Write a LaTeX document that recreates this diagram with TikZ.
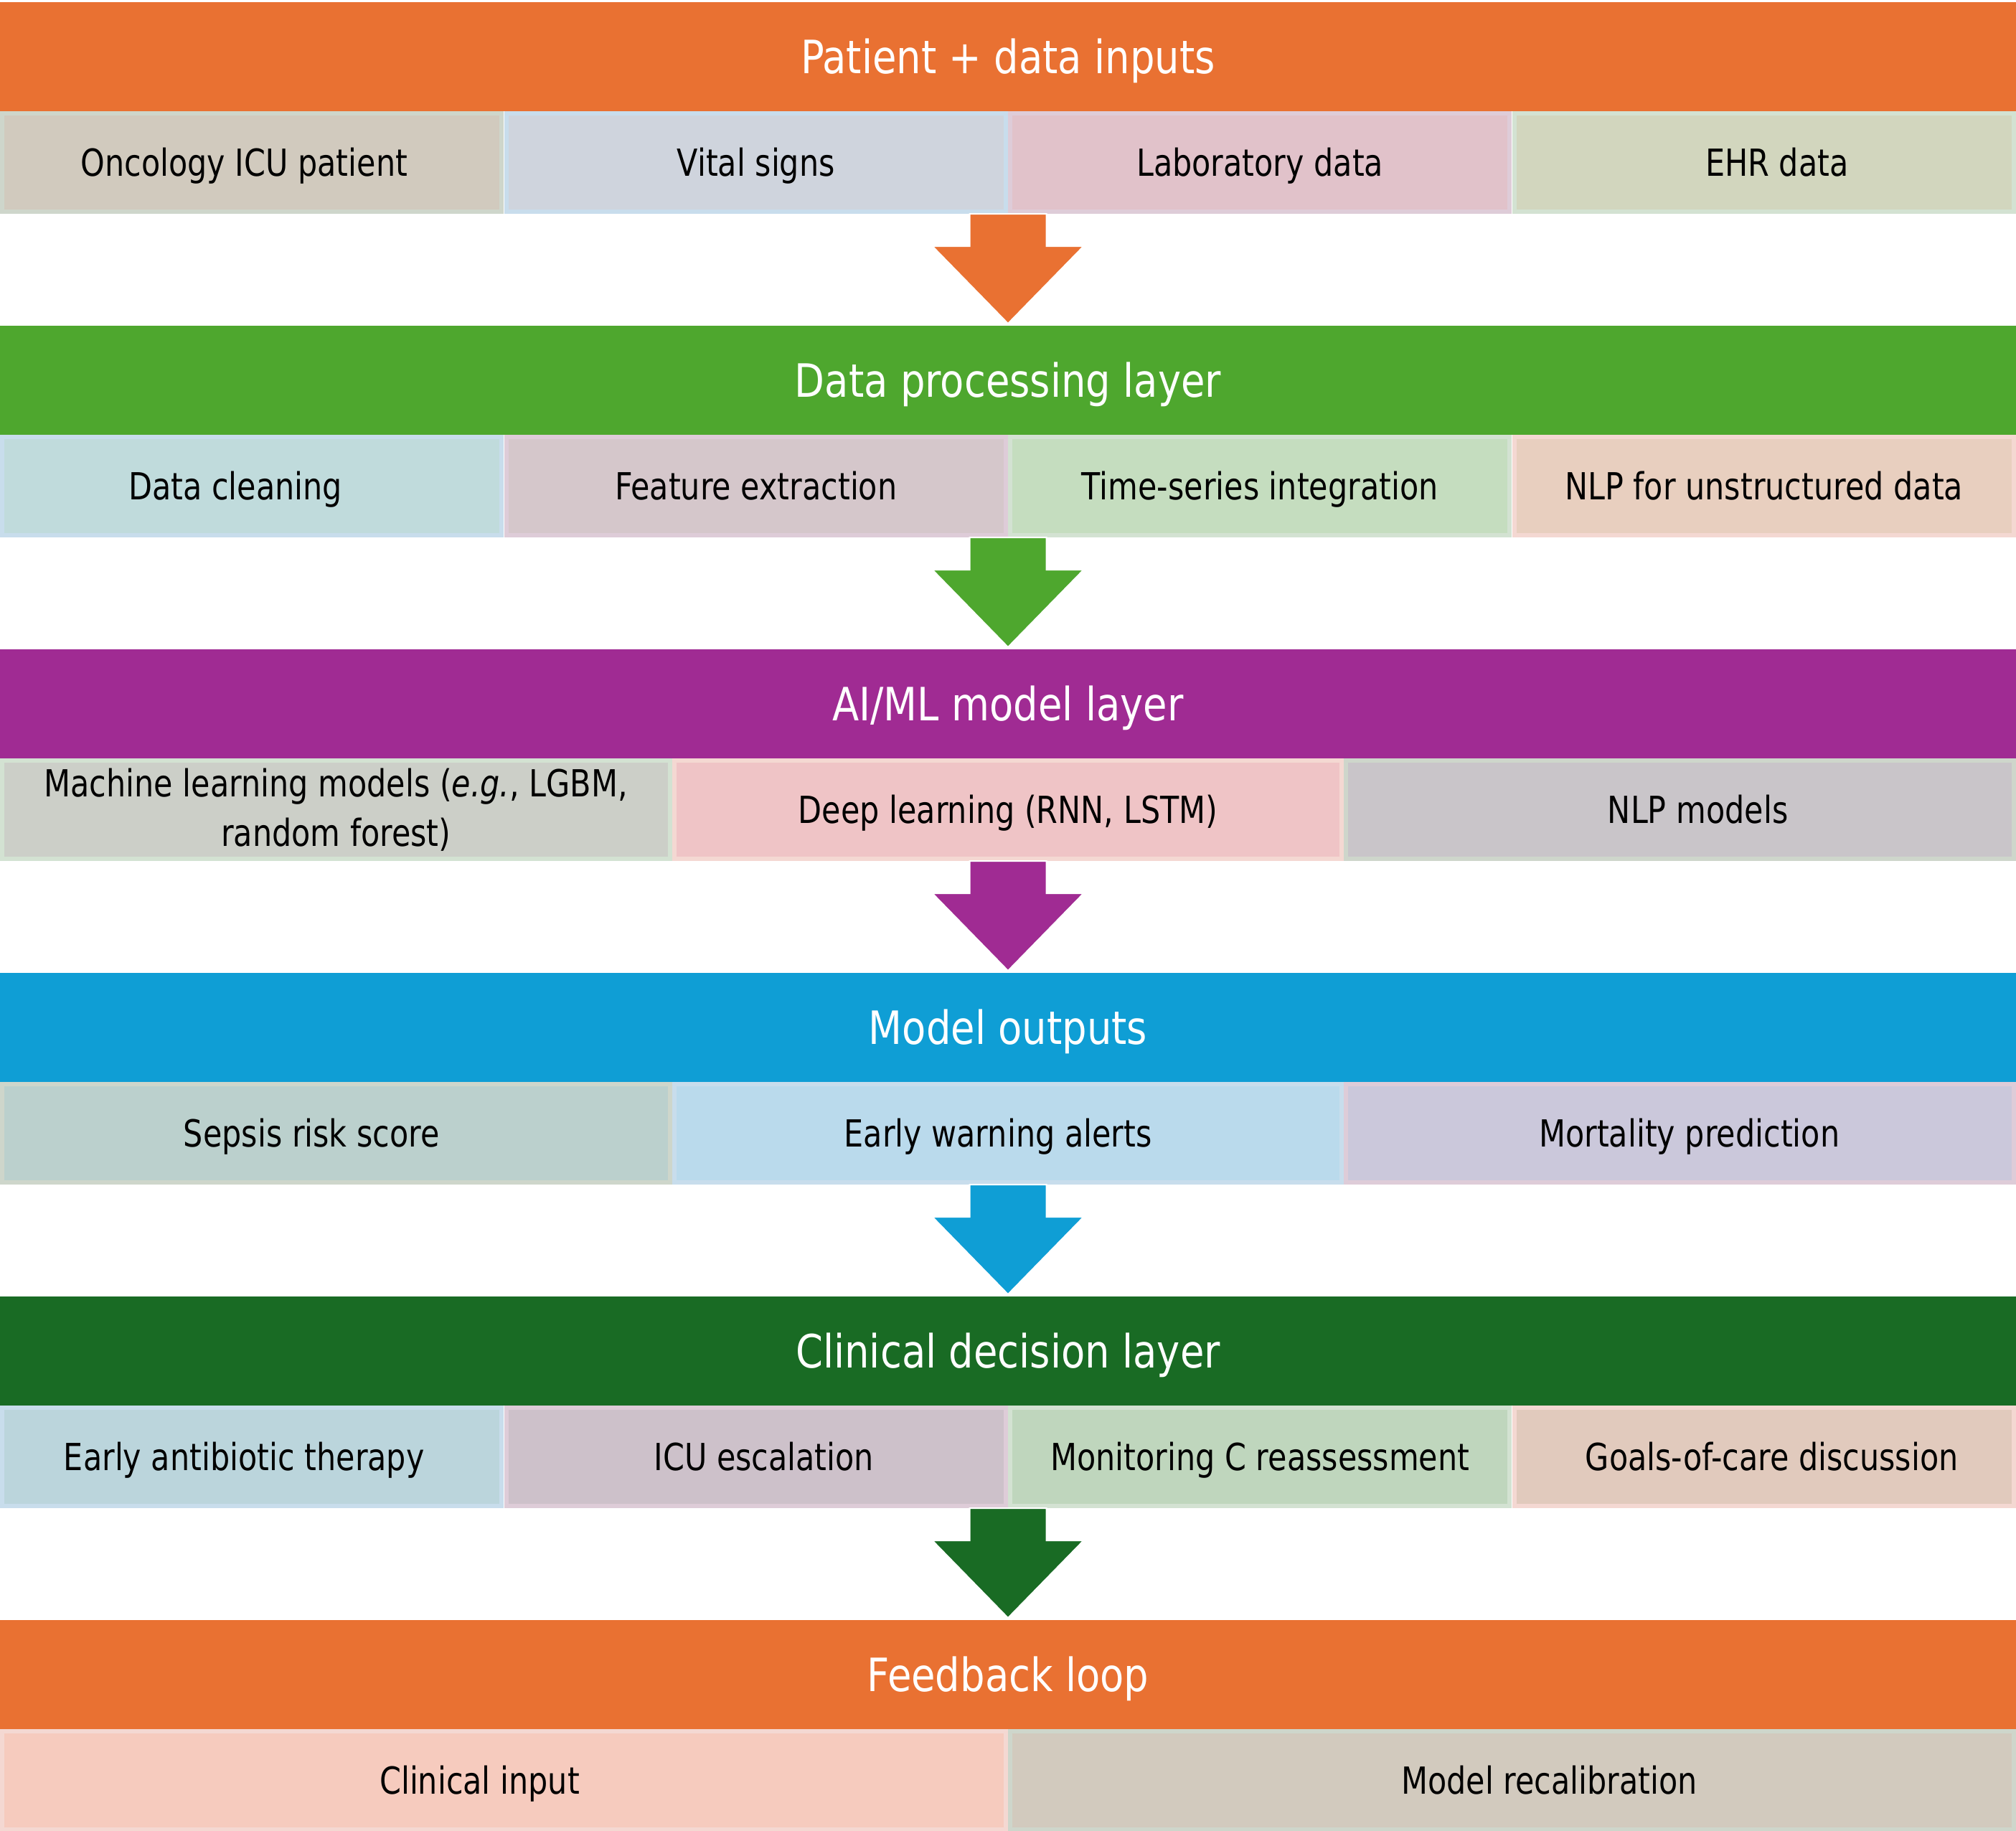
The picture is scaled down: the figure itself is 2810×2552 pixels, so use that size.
\documentclass[tikz,border=0pt]{standalone}
\usepackage{fontspec}
\setmainfont{DejaVu Sans}[FakeStretch=0.85]
\newfontfamily\cellfont{DejaVu Sans}[FakeStretch=0.825]
\usepackage{tikz}
\usetikzlibrary{shapes}
\definecolor{lorange}{HTML}{E97132}
\definecolor{lgreen}{HTML}{4EA72E}
\definecolor{lpurple}{HTML}{A02B93}
\definecolor{lblue}{HTML}{0F9ED5}
\definecolor{dgreen}{HTML}{196B24}
% cell fills
\definecolor{fpatient}{HTML}{D1CABE}
\definecolor{fvitals}{HTML}{CFD4DD}
\definecolor{flabs}{HTML}{E1C2CA}
\definecolor{fehr}{HTML}{D2D6BE}
\definecolor{fclean}{HTML}{C0DBDC}
\definecolor{ffeat}{HTML}{D5C7CB}
\definecolor{ftime}{HTML}{C5DDBF}
\definecolor{fnlp}{HTML}{E8CFBF}
\definecolor{fml}{HTML}{CCCFC8}
\definecolor{fdeep}{HTML}{EFC4C6}
\definecolor{fnlpm}{HTML}{C9C5C9}
\definecolor{fsepsis}{HTML}{BBD0CD}
\definecolor{fwarn}{HTML}{BADAEC}
\definecolor{fmort}{HTML}{CBC8DB}
\definecolor{fanti}{HTML}{BBD5DC}
\definecolor{fesc}{HTML}{CDC1CA}
\definecolor{fmon}{HTML}{BFD6BD}
\definecolor{fgoals}{HTML}{E1CABD}
\definecolor{fclin}{HTML}{F6CBBE}
\definecolor{frecal}{HTML}{D2CABE}
% cell borders
\definecolor{bgreen}{HTML}{D3E2D2}
\definecolor{bgray}{HTML}{CED6CB}
\definecolor{bblue}{HTML}{C8DDEC}
\definecolor{bpink}{HTML}{DECCD8}
\definecolor{bsalmon}{HTML}{F4D8D2}
\tikzstyle{header}=[rectangle, inner sep=0, outer sep=0, minimum width=702.5pt, minimum height=38pt, text height=11.6pt, text depth=0pt, text=white, font=\fontsize{16}{19}\selectfont]
\tikzstyle{cell}=[rectangle, inner sep=0, outer sep=0, line width=1.5pt, minimum height=34.25pt, align=center, text=black, font=\cellfont\fontsize{13}{17.25}\selectfont]
\tikzstyle{oneline}=[cell, text height=9.5pt, text depth=0pt]
\tikzstyle{quarter}=[oneline, minimum width=174.1pt]
\tikzstyle{third}=[oneline, minimum width=232.7pt]
\tikzstyle{half}=[oneline, minimum width=349.75pt]
\tikzstyle{flowarrow}=[draw=white, line width=0.5pt, line join=miter]
\tikzset{tx/.style={execute at begin node={\hspace*{#1}}}}

\begin{document}
\begin{tikzpicture}[x=0.25pt, y=-0.25pt]
            \useasboundingbox (0,0) rectangle (2810,2552);
            % headers
            \node [style=header, fill=lorange] (inputs) at (1405, 79) {Patient + data inputs};
            \node [style=header, fill=lgreen] (processing) at (1405, 530) {Data processing layer};
            \node [style=header, fill=lpurple] (models) at (1405, 981) {AI/ML model layer};
            \node [style=header, fill=lblue] (outputs) at (1405, 1432) {Model outputs};
            \node [style=header, fill=dgreen] (decision) at (1405, 1883) {Clinical decision layer};
            \node [style=header, fill=lorange] (feedback) at (1405, 2334) {Feedback loop};

            % inputs
            \node [style=quarter, fill=fpatient, draw=bgray, tx=-5.5pt] (icupatient) at (351.25, 226.5) {Oncology ICU patient};
            \node [style=quarter, fill=fvitals, draw=bblue] (vitals) at (1053.75, 226.5) {Vital signs};
            \node [style=quarter, fill=flabs, draw=bpink] (labs) at (1756.25, 226.5) {Laboratory data};
            \node [style=quarter, fill=fehr, draw=bgreen, tx=9pt] (ehr) at (2458.75, 226.5) {EHR data};

            % processing
            \node [style=quarter, fill=fclean, draw=bblue, tx=-11.5pt] (cleaning) at (351.25, 677.5) {Data cleaning};
            \node [style=quarter, fill=ffeat, draw=bpink] (features) at (1053.75, 677.5) {Feature extraction};
            \node [style=quarter, fill=ftime, draw=bgreen] (timeseries) at (1756.25, 677.5) {Time-series integration};
            \node [style=quarter, fill=fnlp, draw=bsalmon] (nlpdata) at (2458.75, 677.5) {NLP for unstructured data};

            % models
            \node [style=cell, minimum width=232.7pt, fill=fml, draw=bgreen] (mlmodels) at (468.33, 1128.5) {Machine learning models (\textit{e.g.}, LGBM,\\random forest)};
            \node [style=third, fill=fdeep, draw=bsalmon] (deeplearn) at (1405, 1128.5) {Deep learning (RNN, LSTM)};
            \node [style=third, fill=fnlpm, draw=bgray, tx=12.5pt] (nlpmodels) at (2341.67, 1128.5) {NLP models};

            % outputs
            \node [style=third, fill=fsepsis, draw=bgray, tx=-17pt] (sepsis) at (468.33, 1579.5) {Sepsis risk score};
            \node [style=third, fill=fwarn, draw=bblue, tx=-7pt] (warning) at (1405, 1579.5) {Early warning alerts};
            \node [style=third, fill=fmort, draw=bpink, tx=6.5pt] (mortality) at (2341.67, 1579.5) {Mortality prediction};

            % decision
            \node [style=quarter, fill=fanti, draw=bblue, tx=-5.5pt] (antibiotic) at (351.25, 2030.5) {Early antibiotic therapy};
            \node [style=quarter, fill=fesc, draw=bpink, tx=5.5pt] (escalation) at (1053.75, 2030.5) {ICU escalation};
            \node [style=quarter, fill=fmon, draw=bgreen] (monitoring) at (1756.25, 2030.5) {Monitoring C reassessment};
            \node [style=quarter, fill=fgoals, draw=bsalmon, tx=5.5pt] (goals) at (2458.75, 2030.5) {Goals-of-care discussion};

            % feedback
            \node [style=half, fill=fclin, draw=bsalmon, tx=-17pt] (clininput) at (702.5, 2481.5) {Clinical input};
            \node [style=half, fill=frecal, draw=bgray, tx=26pt] (recalib) at (2107.5, 2481.5) {Model recalibration};

            % block arrows
            \foreach \y/\c in {298/lorange, 749/lgreen, 1200/lpurple, 1651/lblue, 2102/dgreen}
                \filldraw [style=flowarrow, fill=\c] (1351.5, \y) -- (1458.5, \y) -- (1458.5, \y+45) -- (1510.5, \y+45) -- (1405, \y+153) -- (1299.5, \y+45) -- (1351.5, \y+45) -- cycle;
\end{tikzpicture}
\end{document}
